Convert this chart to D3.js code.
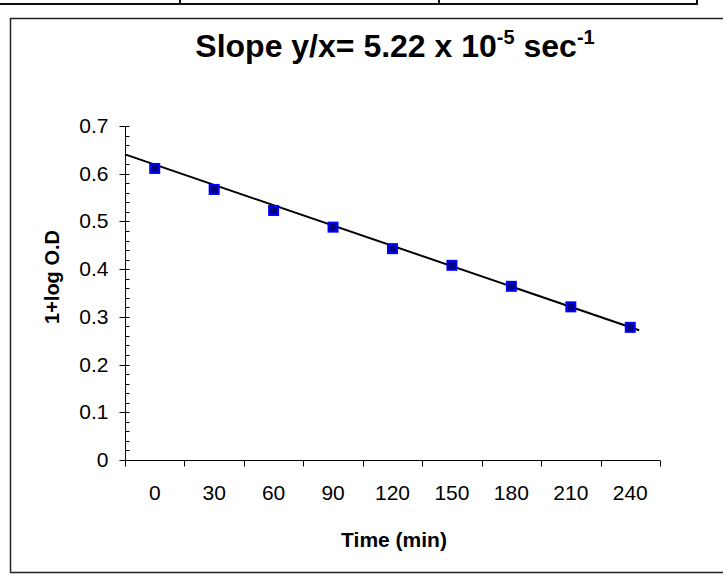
<!DOCTYPE html>
<html>
<head>
<meta charset="utf-8">
<script src="https://cdn.jsdelivr.net/npm/d3@7"></script>
<style>
  html, body { margin: 0; padding: 0; background: #fff; }
  text { font-family: "Liberation Sans", Arial, sans-serif; fill: #000; }
</style>
</head>
<body>
<svg id="chart" width="723" height="576"></svg>
<script>
// data
const times = [0, 30, 60, 90, 120, 150, 180, 210, 240];
const logOD = [0.611, 0.567, 0.523, 0.488, 0.443, 0.408, 0.364, 0.321, 0.278];
const yTicks = [0, 0.1, 0.2, 0.3, 0.4, 0.5, 0.6, 0.7];
// linear trendline as drawn (start at the axis, end just past the last point)
const trendTime = [-15, 244.5];
const trendValue = [0.6405, 0.272];

const svg = d3.select('#chart');

// table border strip at the very top of the page
const strip = svg.append('g').attr('stroke', '#111').attr('stroke-width', 2);
strip.append('line').attr('x1', 0).attr('x2', 698).attr('y1', 4).attr('y2', 4);
[180, 439, 697].forEach(x => {
  strip.append('line').attr('x1', x).attr('x2', x).attr('y1', 0).attr('y2', 4);
});

// chart frame
svg.append('rect')
  .attr('x', 10.5).attr('y', 18.5).attr('width', 740).attr('height', 554)
  .attr('fill', 'none').attr('stroke', '#222').attr('stroke-width', 1.5);

const x = d3.scaleLinear().domain([-15, 255]).range([125, 660]);
const y = d3.scaleLinear().domain([0, 0.7]).range([460, 126]);

const plot = svg.append('g');

// y axis: major + minor ticks
const yAxis = plot.append('g').attr('transform', 'translate(125.5,0)');
yAxis.append('line').attr('y1', y(0.7)).attr('y2', y(0)).attr('stroke', '#000');
const minor = d3.range(0, 0.7001, 0.02).filter(v => Math.abs(v * 10 - Math.round(v * 10)) > 1e-6);
yAxis.selectAll('.minor').data(minor).enter().append('line')
  .attr('x1', 0).attr('x2', 4)
  .attr('y1', d => Math.round(y(d)) + 0.5).attr('y2', d => Math.round(y(d)) + 0.5)
  .attr('stroke', '#000');
yAxis.selectAll('.major').data(yTicks).enter().append('line')
  .attr('x1', -6).attr('x2', 4)
  .attr('y1', d => Math.round(y(d)) + 0.5).attr('y2', d => Math.round(y(d)) + 0.5)
  .attr('stroke', '#000');
yAxis.selectAll('.lab').data(yTicks).enter().append('text')
  .attr('x', -17).attr('y', d => y(d) + 7)
  .attr('text-anchor', 'end').attr('font-size', 21)
  .text(d => d === 0 ? '0' : d3.format('.1f')(d));

// x axis: ticks on the category boundaries, labels in between
const xAxis = plot.append('g').attr('transform', 'translate(0,460.5)');
xAxis.append('line').attr('x1', x(-15)).attr('x2', x(255)).attr('stroke', '#000');
const bounds = times.map(t => t - 15).concat([255]);
xAxis.selectAll('.tick').data(bounds).enter().append('line')
  .attr('x1', d => Math.round(x(d)) + 0.5).attr('x2', d => Math.round(x(d)) + 0.5)
  .attr('y1', 0).attr('y2', 6).attr('stroke', '#000');
xAxis.selectAll('.lab').data(times).enter().append('text')
  .attr('x', d => x(d)).attr('y', 39)
  .attr('text-anchor', 'middle').attr('font-size', 21)
  .text(d => d);

// trendline
plot.append('path')
  .datum(d3.zip(trendTime, trendValue))
  .attr('d', d3.line().x(d => x(d[0])).y(d => y(d[1])))
  .attr('stroke', '#000').attr('stroke-width', 2).attr('fill', 'none');

// markers
plot.selectAll('.pt').data(d3.zip(times, logOD)).enter().append('rect')
  .attr('x', d => x(d[0]) - 4.5).attr('y', d => y(d[1]) - 4.5)
  .attr('width', 9).attr('height', 9)
  .attr('fill', '#000080').attr('stroke', '#0000ff').attr('stroke-width', 2);

// titles
const title = svg.append('text')
  .attr('x', 395).attr('y', 57).attr('text-anchor', 'middle')
  .attr('font-size', 32).attr('font-weight', 'bold');
title.append('tspan').text('Slope y/x= 5.22 x 10');
title.append('tspan').attr('font-size', 20).attr('dy', -13).text('-5');
title.append('tspan').attr('dy', 13).text(' sec');
title.append('tspan').attr('font-size', 20).attr('dy', -13).text('-1');

svg.append('text')
  .attr('transform', 'translate(59,277) rotate(-90)')
  .attr('text-anchor', 'middle').attr('font-size', 20).attr('font-weight', 'bold')
  .text('1+log O.D');

svg.append('text')
  .attr('x', 394).attr('y', 547).attr('text-anchor', 'middle')
  .attr('font-size', 21).attr('font-weight', 'bold')
  .text('Time (min)');
</script>
</body>
</html>
